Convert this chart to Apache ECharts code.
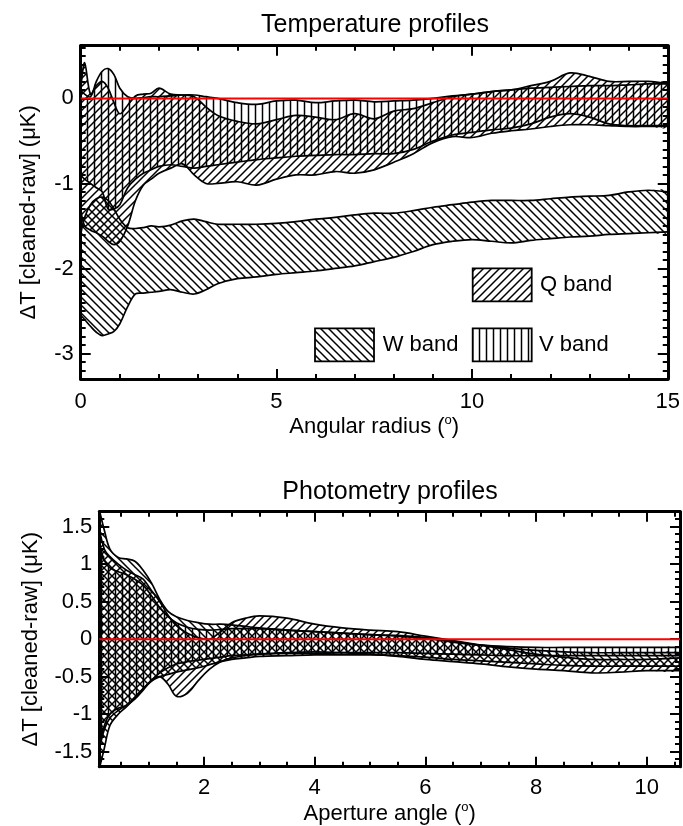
<!DOCTYPE html>
<html><head><meta charset="utf-8">
<script src="https://cdn.jsdelivr.net/npm/echarts@6/dist/echarts.min.js"></script>
<style>html,body{margin:0;padding:0;background:#fff}#c{width:683px;height:826px}</style>
</head><body><div id="c"></div>
<script>
// ---------------- Top chart: Temperature profiles ----------------
const tempX = [0, 0.1, 0.25, 0.4, 0.55, 0.7, 0.85, 1.0, 1.2, 1.4, 1.6, 1.8, 2.0, 2.3, 2.6, 2.9, 3.2, 3.5, 4.0, 4.5, 5.0, 5.5, 6.0, 6.5, 7.0, 7.5, 8.0, 8.5, 9.0, 9.5, 10.0, 10.5, 11.0, 11.5, 12.0, 12.5, 13.0, 13.5, 14.0, 14.5, 15.0];
const tempQHi = [0.1, 0.42, 0.05, 0.15, 0.2, 0.12, -0.05, -0.18, -0.08, 0.03, 0.05, 0.06, 0.12, 0.05, 0.04, 0.02, -0.1, -0.2, -0.27, -0.3, -0.25, -0.2, -0.22, -0.25, -0.18, -0.24, -0.15, -0.12, -0.05, 0.02, 0.05, 0.08, 0.1, 0.15, 0.2, 0.3, 0.26, 0.2, 0.2, 0.2, 0.17];
const tempQLo = [-1.3, -1.5, -1.55, -1.58, -1.62, -1.68, -1.72, -1.68, -1.5, -1.2, -1.02, -0.95, -0.88, -0.82, -0.77, -0.9, -1.0, -1.0, -0.98, -1.02, -0.95, -0.9, -0.9, -0.86, -0.88, -0.84, -0.75, -0.65, -0.52, -0.45, -0.46, -0.41, -0.38, -0.36, -0.33, -0.31, -0.31, -0.32, -0.33, -0.33, -0.33];
const tempVHi = [0.1, 0.05, 0.02, 0.2, 0.32, 0.35, 0.28, 0.12, 0.02, 0.0, 0.01, 0.02, 0.02, 0.03, 0.04, 0.04, 0.02, 0.0, -0.05, -0.07, -0.03, -0.02, -0.05, -0.03, -0.02, -0.04, -0.03, -0.02, 0.0, 0.03, 0.05, 0.08, 0.1, 0.12, 0.13, 0.14, 0.15, 0.15, 0.16, 0.17, 0.17];
const tempVLo = [-0.9, -0.95, -1.0, -1.05, -1.1, -1.3, -1.3, -1.25, -1.05, -0.95, -0.88, -0.84, -0.8, -0.78, -0.8, -0.82, -0.8, -0.78, -0.75, -0.72, -0.7, -0.68, -0.67, -0.66, -0.66, -0.65, -0.65, -0.6, -0.5, -0.43, -0.4, -0.37, -0.35, -0.3, -0.22, -0.18, -0.22, -0.3, -0.32, -0.32, -0.32];
const tempWHi = [-1.6, -1.4, -1.25, -1.18, -1.16, -1.2, -1.3, -1.42, -1.52, -1.53, -1.52, -1.5, -1.51, -1.49, -1.44, -1.42, -1.45, -1.48, -1.48, -1.48, -1.47, -1.45, -1.42, -1.4, -1.37, -1.35, -1.35, -1.32, -1.28, -1.25, -1.22, -1.2, -1.2, -1.2, -1.18, -1.16, -1.15, -1.14, -1.1, -1.08, -1.1];
const tempWLo = [-2.55, -2.6, -2.68, -2.75, -2.79, -2.77, -2.74, -2.65, -2.45, -2.3, -2.29, -2.28, -2.27, -2.25, -2.28, -2.3, -2.25, -2.18, -2.12, -2.1, -2.07, -2.05, -2.03, -2.0, -1.97, -1.92, -1.87, -1.8, -1.72, -1.68, -1.66, -1.68, -1.7, -1.67, -1.65, -1.63, -1.62, -1.6, -1.59, -1.58, -1.57];
const tempXRange = [0, 15];
const tempYRange = [-3.3, 0.62];
const tempXTicks = [0, 5, 10, 15];
const tempYTicks = [0, -1, -2, -3];

// ---------------- Bottom chart: Photometry profiles ----------------
const photX = [0.1, 0.2, 0.3, 0.45, 0.6, 0.75, 0.9, 1.05, 1.2, 1.35, 1.5, 1.7, 1.9, 2.1, 2.3, 2.5, 2.75, 3.0, 3.5, 4.0, 4.5, 5.0, 5.5, 6.0, 6.5, 7.0, 7.5, 8.0, 8.5, 9.0, 9.5, 10.0, 10.6];
const photWHi = [1.75, 1.45, 1.2, 1.09, 1.07, 1.04, 0.92, 0.75, 0.53, 0.37, 0.3, 0.25, 0.22, 0.2, 0.2, 0.19, 0.17, 0.15, 0.12, 0.1, 0.08, 0.06, 0.05, 0.02, -0.03, -0.08, -0.12, -0.15, -0.17, -0.18, -0.18, -0.18, -0.18];
const photWLo = [-1.75, -1.45, -1.15, -1.0, -0.9, -0.78, -0.66, -0.56, -0.5, -0.47, -0.44, -0.41, -0.38, -0.34, -0.3, -0.27, -0.25, -0.23, -0.22, -0.21, -0.21, -0.21, -0.22, -0.24, -0.27, -0.29, -0.31, -0.33, -0.35, -0.36, -0.36, -0.36, -0.36];
const photQHi = [1.5, 1.2, 1.1, 1.0, 0.92, 0.86, 0.8, 0.65, 0.5, 0.32, 0.18, 0.08, 0.02, 0.0, 0.1, 0.22, 0.28, 0.31, 0.28, 0.2, 0.15, 0.12, 0.1, 0.04, -0.02, -0.08, -0.14, -0.2, -0.24, -0.27, -0.27, -0.27, -0.25];
const photQLo = [-1.5, -1.2, -1.05, -0.95, -0.88, -0.78, -0.66, -0.55, -0.5, -0.6, -0.76, -0.72, -0.55, -0.4, -0.3, -0.25, -0.22, -0.2, -0.18, -0.17, -0.18, -0.2, -0.23, -0.27, -0.3, -0.33, -0.37, -0.4, -0.42, -0.45, -0.44, -0.42, -0.42];
const photVHi = [1.3, 1.05, 0.95, 0.9, 0.86, 0.8, 0.72, 0.58, 0.42, 0.3, 0.22, 0.16, 0.13, 0.12, 0.13, 0.14, 0.14, 0.14, 0.12, 0.1, 0.08, 0.06, 0.04, 0.01, -0.04, -0.08, -0.1, -0.11, -0.11, -0.11, -0.11, -0.11, -0.11];
const photVLo = [-1.45, -1.15, -1.0, -0.92, -0.88, -0.8, -0.68, -0.55, -0.45, -0.38, -0.33, -0.3, -0.28, -0.26, -0.24, -0.22, -0.21, -0.2, -0.19, -0.19, -0.18, -0.18, -0.18, -0.19, -0.2, -0.21, -0.22, -0.22, -0.22, -0.22, -0.22, -0.22, -0.22];
const photXRange = [0.108, 10.6];
const photYRange = [-1.7, 1.7];
const photXTicks = [2, 4, 6, 8, 10];
const photYTicks = [1.5, 1, 0.5, 0, -0.5, -1, -1.5];

const legendNames = ['Q band', 'W band', 'V band'];
const titles = ['Temperature profiles', 'Photometry profiles'];

// ---------------- helpers ----------------
const FONT = 'Liberation Sans';
function hatch(kind, s) {
  const c = document.createElement('canvas'); c.width = s; c.height = s;
  const g = c.getContext('2d'); g.strokeStyle = '#000'; g.lineWidth = 1.5;
  g.beginPath();
  if (kind === 'v') { g.moveTo(s / 2, 0); g.lineTo(s / 2, s); }
  else if (kind === 'f') {
    g.moveTo(-1, s + 1); g.lineTo(s + 1, -1);
    g.moveTo(-1, 1); g.lineTo(1, -1);
    g.moveTo(s - 1, s + 1); g.lineTo(s + 1, s - 1);
  } else {
    g.moveTo(-1, -1); g.lineTo(s + 1, s + 1);
    g.moveTo(s - 1, -1); g.lineTo(s + 1, 1);
    g.moveTo(-1, s - 1); g.lineTo(1, s + 1);
  }
  g.stroke(); return c;
}
const patQ = { image: hatch('f', 8), repeat: 'repeat' };
const patW = { image: hatch('b', 8), repeat: 'repeat' };
const patV = { image: hatch('v', 7), repeat: 'repeat' };

function steps(a, b, st, skip) {
  const out = [];
  for (let i = Math.ceil(a / st - 1e-6); i * st <= b + 1e-6; i++) {
    const v = +(i * st).toFixed(4);
    if (!skip.some(s => Math.abs(s - v) < 1e-6)) out.push(v);
  }
  return out;
}

function makeAxes(gi, xr, yr, xMaj, xMin, yMaj, yMin, xName, yName, xLabMargin, xNameGap, yNameGap) {
  const common = { gridIndex: gi, type: 'value', splitLine: { show: false } };
  const lab = { fontFamily: FONT, fontSize: 22, color: '#000' };
  const tk = (vals, len) => ({ show: true, inside: true, length: len, customValues: vals, lineStyle: { color: '#000', width: 2 } });
  const line = (show) => ({ show, onZero: false, lineStyle: { color: '#000', width: 3 } });
  const xs = [
    Object.assign({}, common, { position: 'bottom', min: xr[0], max: xr[1], axisLine: line(true), axisTick: tk(xMaj, 10),
      axisLabel: Object.assign({ show: true, customValues: xMaj, margin: xLabMargin, formatter: v => String(v) }, lab),
      name: xName, nameLocation: 'middle', nameGap: xNameGap,
      nameTextStyle: Object.assign({ rich: { s: { fontFamily: FONT, fontSize: 13, color: '#000', verticalAlign: 'top', lineHeight: 26 }, n: Object.assign({ lineHeight: 26 }, lab) } }, lab) }),
    Object.assign({}, common, { position: 'bottom', min: xr[0], max: xr[1], axisLine: line(false), axisTick: tk(xMin, 5), axisLabel: { show: false } }),
    Object.assign({}, common, { position: 'top', min: xr[0], max: xr[1], axisLine: line(true), axisTick: tk(xMaj, 10), axisLabel: { show: false } }),
    Object.assign({}, common, { position: 'top', min: xr[0], max: xr[1], axisLine: line(false), axisTick: tk(xMin, 5), axisLabel: { show: false } })
  ];
  const ys = [
    Object.assign({}, common, { position: 'left', min: yr[0], max: yr[1], axisLine: line(true), axisTick: tk(yMaj, 10),
      axisLabel: Object.assign({ show: true, customValues: yMaj, margin: 7, formatter: v => String(v) }, lab),
      name: yName, nameLocation: 'middle', nameRotate: 90, nameGap: yNameGap, nameTextStyle: lab }),
    Object.assign({}, common, { position: 'left', min: yr[0], max: yr[1], axisLine: line(false), axisTick: tk(yMin, 5), axisLabel: { show: false } }),
    Object.assign({}, common, { position: 'right', min: yr[0], max: yr[1], axisLine: line(true), axisTick: tk(yMaj, 10), axisLabel: { show: false } }),
    Object.assign({}, common, { position: 'right', min: yr[0], max: yr[1], axisLine: line(false), axisTick: tk(yMin, 5), axisLabel: { show: false } })
  ];
  return { xs, ys };
}

const SM = 0.35, LW = 1.7;
function band(gi, xs, lo, hi, pat) {
  return {
    type: 'custom', xAxisIndex: gi * 4, yAxisIndex: gi * 4, silent: true, clip: true, z: 2,
    data: xs.map((x, i) => [x, lo[i], hi[i]]),
    encode: { x: 0, y: [1, 2] },
    renderItem: function (params, api) {
      if (params.dataIndex !== 0) return null;
      const up = xs.map((x, i) => api.coord([x, hi[i]]));
      const dn = xs.map((x, i) => api.coord([x, lo[i]]));
      const n = up.length - 1;
      return { type: 'group', children: [
        { type: 'polygon', shape: { points: up.concat(dn.slice().reverse()), smooth: SM }, style: { fill: pat, stroke: null } },
        { type: 'polyline', shape: { points: up, smooth: SM }, style: { stroke: '#000', lineWidth: LW, fill: null } },
        { type: 'polyline', shape: { points: dn, smooth: SM }, style: { stroke: '#000', lineWidth: LW, fill: null } },
        { type: 'line', shape: { x1: up[0][0], y1: up[0][1], x2: dn[0][0], y2: dn[0][1] }, style: { stroke: '#000', lineWidth: LW } },
        { type: 'line', shape: { x1: up[n][0], y1: up[n][1], x2: dn[n][0], y2: dn[n][1] }, style: { stroke: '#000', lineWidth: LW } }
      ] };
    }
  };
}

const a0 = makeAxes(0, tempXRange, tempYRange, tempXTicks, steps(0, 15, 1, tempXTicks), tempYTicks,
  steps(-3.3, 0.62, 0.1, tempYTicks), '{n|Angular radius (}{s|o}{n|)}', 'ΔT [cleaned-raw] (μK)', 12, 32, 41);
const a1 = makeAxes(1, photXRange, photYRange, photXTicks, steps(0.108, 10.6, 0.5, photXTicks), photYTicks,
  steps(-1.7, 1.7, 0.1, photYTicks), '{n|Aperture angle (}{s|o}{n|)}', 'ΔT [cleaned-raw] (μK)', 10, 34, 57);

const series = [
  band(0, tempX, tempWLo, tempWHi, patW),
  band(0, tempX, tempQLo, tempQHi, patQ),
  band(0, tempX, tempVLo, tempVHi, patV),
  band(1, photX, photWLo, photWHi, patW),
  band(1, photX, photQLo, photQHi, patQ),
  band(1, photX, photVLo, photVHi, patV),
  { type: 'line', xAxisIndex: 0, yAxisIndex: 0, symbol: 'none', silent: true, z: 5, lineStyle: { color: '#ff0000', width: 2 }, data: [[tempXRange[0], 0], [tempXRange[1], 0]] },
  { type: 'line', xAxisIndex: 4, yAxisIndex: 4, symbol: 'none', silent: true, z: 5, lineStyle: { color: '#ff0000', width: 2 }, data: [[photXRange[0], 0], [photXRange[1], 0]] }
];

const txt = (t, x, y, size, align) => ({ type: 'text', x, y, silent: true,
  style: { text: t, fill: '#000', fontFamily: FONT, fontSize: size, textAlign: align || 'left', textVerticalAlign: 'middle' } });
const box = (x, y, pat) => ({ type: 'rect', shape: { x, y, width: 59, height: 33 }, silent: true,
  style: { fill: pat, stroke: '#000', lineWidth: 1.8 } });

const chart = echarts.init(document.getElementById('c'), null, { renderer: 'canvas' });
chart.setOption({
  animation: false,
  backgroundColor: '#fff',
  grid: [
    { left: 80.7, top: 45.7, width: 588.6, height: 333.3 },
    { left: 99.3, top: 511.7, width: 580.7, height: 255 }
  ],
  xAxis: a0.xs.concat(a1.xs),
  yAxis: a0.ys.concat(a1.ys),
  series,
  graphic: [
    txt(titles[0], 375, 25, 25, 'center'),
    txt(titles[1], 390, 492, 25, 'center'),
    box(472.7, 268.3, patQ), txt(legendNames[0], 540, 285, 22),
    box(315, 328.3, patW), txt(legendNames[1], 382.7, 345, 22),
    box(472.7, 328.3, patV), txt(legendNames[2], 539, 345, 22)
  ]
});
</script></body></html>
